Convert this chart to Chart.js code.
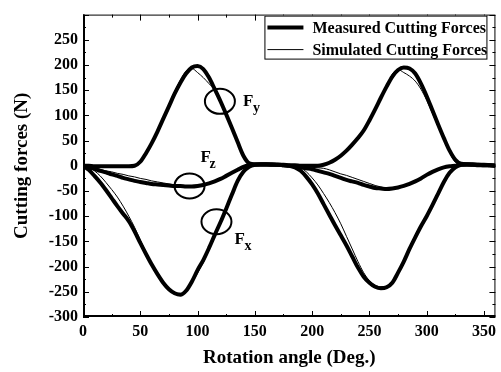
<!DOCTYPE html>
<html>
<head>
<meta charset="utf-8">
<script src="https://cdn.jsdelivr.net/npm/chart.js@4.4.1/dist/chart.umd.min.js"></script>
<style>
  html, body { margin: 0; padding: 0; background: #fff; }
</style>
</head>
<body>
<canvas id="chart" width="501" height="372"></canvas>
<script>
// rotation angle (deg.)
const angles = [0, 5, 10, 15, 20, 25, 30, 35, 40, 45, 50, 55, 60, 65, 70, 75, 80, 85, 90, 95,
  100, 105, 110, 115, 120, 125, 130, 135, 140, 145, 150, 155, 160, 165, 170, 175, 180, 185, 190, 195,
  200, 205, 210, 215, 220, 225, 230, 235, 240, 245, 250, 255, 260, 265, 270, 275, 280, 285, 290, 295,
  300, 305, 310, 315, 320, 325, 330, 335, 340, 345, 350, 355, 360];

// measured cutting forces (N)
const fxMeasured = [0, -8, -20, -33, -48, -64, -80, -95, -110, -130, -153, -175, -196, -215, -232, -245, -253, -256, -248, -230,
  -207, -187, -163, -137, -112, -85, -57, -30, -12, -2, 2, 3, 3, 2, 2, 1, 0, -3, -10, -22,
  -37, -55, -76, -97, -118, -138, -158, -180, -202, -220, -232, -240, -243, -241, -232, -212, -190, -165, -142, -120,
  -100, -78, -55, -32, -14, -3, 2, 3, 2, 2, 1, 1, 0];
const fyMeasured = [0, 0, -1, -1, -1, -1, -1, -1, -1, 0, 8, 25, 45, 68, 93, 118, 143, 165, 183, 195,
  198, 192, 175, 152, 128, 102, 75, 47, 20, 5, 3, 3, 3, 3, 2, 2, 1, 1, 0, 0,
  0, 0, 2, 6, 12, 20, 30, 42, 55, 70, 90, 112, 135, 157, 177, 190, 195, 193, 183, 163,
  138, 110, 82, 55, 30, 12, 4, 3, 3, 2, 2, 1, 0];
const fzMeasured = [0, -3, -6, -10, -13, -17, -20, -24, -27, -30, -32, -34, -36, -37, -38, -39, -40, -40, -41, -41,
  -40, -38, -35, -31, -26, -20, -14, -8, -2, 1, 2, 2, 2, 2, 2, 1, 0, -1, -3, -5,
  -7, -10, -13, -16, -20, -24, -28, -31, -34, -38, -41, -44, -45, -46, -45, -43, -40, -36, -31, -25,
  -18, -12, -7, -3, -1, 0, 2, 2, 2, 1, 1, 1, 0];

// simulated cutting forces (N)
const fxSimulated = [0, -3, -10, -20, -33, -47, -62, -80, -100, -122, -147, -172, -195, -215, -232, -245, -252, -253, -247, -233,
  -213, -192, -167, -140, -113, -85, -57, -30, -11, -1, 1, 2, 2, 1, 1, 0, 0, -1, -4, -12,
  -24, -38, -55, -73, -93, -115, -140, -165, -190, -212, -228, -237, -240, -239, -231, -213, -192, -168, -145, -123,
  -102, -80, -57, -34, -15, -4, 0, 1, 1, 1, 0, 0, 0];
const fySimulated = [0, 0, 0, 0, 0, 0, 0, 0, 0, 0, 6, 22, 43, 68, 95, 122, 148, 170, 188, 193,
  185, 175, 163, 150, 127, 102, 75, 47, 20, 4, 1, 1, 1, 1, 1, 0, 0, 0, 0, 0,
  0, 0, 1, 5, 11, 19, 29, 41, 54, 69, 90, 112, 135, 158, 182, 191, 185, 178, 168, 152,
  130, 104, 78, 52, 26, 7, 1, 4, 1, 0, 0, 0, 0];
const fzSimulated = [0, -1, -4, -7, -10, -12, -15, -17, -20, -22, -25, -27, -30, -32, -34, -36, -38, -39, -40, -40,
  -39, -37, -34, -30, -25, -19, -13, -7, -2, 0, 1, 1, 1, 1, 1, 0, 0, -1, -1, -2,
  -3, -4, -5, -8, -12, -16, -19, -23, -27, -31, -35, -39, -42, -44, -44, -42, -39, -35, -30, -24,
  -17, -11, -6, -3, -1, 0, 1, 1, 1, 1, 0, 0, 0];

const xTicks = [0, 50, 100, 150, 200, 250, 300, 350];
const yTicks = [-300, -250, -200, -150, -100, -50, 0, 50, 100, 150, 200, 250];

const legendLabels = ['Measured Cutting Forces', 'Simulated Cutting Forces'];
const xTitle = 'Rotation angle (Deg.)';
const yTitle = 'Cutting forces (N)';

// component labels: circle centre in data units, label offset in px
const marks = [
  { name: 'y', x: 119.5, y: 128, dx: 23, dy: 5, sdx: 10, sdy: 6 },
  { name: 'z', x: 93, y: -40, dx: 11, dy: -24, sdx: 9, sdy: 6 },
  { name: 'x', x: 116.5, y: -111, dx: 18, dy: 22, sdx: 10, sdy: 6 }
];

const SERIF = "'Liberation Serif', 'Times New Roman', serif";

function pts(vals) {
  return angles.map((a, i) => ({ x: a, y: vals[i] }));
}

function measured(vals) {
  return { data: pts(vals), borderColor: '#000', borderWidth: 4, pointRadius: 0,
    cubicInterpolationMode: 'monotone', fill: false };
}
function simulated(vals) {
  return { data: pts(vals), borderColor: '#000', borderWidth: 1, pointRadius: 0,
    cubicInterpolationMode: 'monotone', fill: false };
}

function line(ctx, x1, y1, x2, y2) {
  ctx.beginPath();
  ctx.moveTo(x1, y1);
  ctx.lineTo(x2, y2);
  ctx.stroke();
}

const decor = {
  id: 'decor',
  afterDraw(chart) {
    const { ctx, chartArea: a, scales: { x, y } } = chart;
    ctx.save();
    ctx.strokeStyle = '#000';
    ctx.fillStyle = '#000';

    // inward ticks on all four sides
    ctx.lineWidth = 1;
    for (let v = 0; v <= 360; v += 25) {
      const px = Math.round(x.getPixelForValue(v)) + 0.5;
      const len = v % 50 === 0 ? 6 : 3;
      line(ctx, px, a.bottom, px, a.bottom - len);
      line(ctx, px, a.top, px, a.top + len);
    }
    for (let v = -300; v <= 300; v += 25) {
      const py = Math.round(y.getPixelForValue(v)) + 0.5;
      const len = v % 50 === 0 ? 6 : 3;
      line(ctx, a.left, py, a.left + len, py);
      line(ctx, a.right, py, a.right - len, py);
    }

    // frame
    ctx.strokeRect(a.left + 0.5, a.top + 0.5, a.right - a.left - 1, a.bottom - a.top - 1);
    ctx.lineWidth = 2;
    line(ctx, a.left + 1, a.top, a.left + 1, a.bottom);
    line(ctx, a.left, a.bottom - 1, a.right, a.bottom - 1);

    // circles + F labels
    marks.forEach(m => {
      const cx = x.getPixelForValue(m.x);
      const cy = y.getPixelForValue(m.y);
      ctx.lineWidth = 2;
      ctx.beginPath();
      ctx.ellipse(cx, cy, 15, 12.5, 0, 0, Math.PI * 2);
      ctx.stroke();
      ctx.textAlign = 'left';
      ctx.textBaseline = 'alphabetic';
      ctx.font = 'bold 17px ' + SERIF;
      ctx.fillText('F', cx + m.dx, cy + m.dy);
      ctx.font = 'bold 14px ' + SERIF;
      ctx.fillText(m.name, cx + m.dx + m.sdx, cy + m.dy + m.sdy);
    });

    // legend box
    const lx = a.right - 231, ly = a.top + 1, lw = 222, lh = 43;
    ctx.fillStyle = '#fff';
    ctx.fillRect(lx, ly, lw, lh);
    ctx.lineWidth = 1;
    ctx.strokeRect(lx + 0.5, ly + 0.5, lw, lh);
    ctx.fillStyle = '#000';
    ctx.font = 'bold 16px ' + SERIF;
    ctx.textBaseline = 'middle';
    [4, 1].forEach((w, i) => {
      const ry = ly + 12 + i * 22;
      ctx.lineWidth = w;
      line(ctx, lx + 3, ry, lx + 39, ry);
      ctx.fillText(legendLabels[i], lx + 48, ry + 1);
    });
    ctx.restore();
  }
};

new Chart(document.getElementById('chart'), {
  type: 'line',
  data: {
    datasets: [
      measured(fxMeasured), measured(fyMeasured), measured(fzMeasured),
      simulated(fxSimulated), simulated(fySimulated), simulated(fzSimulated)
    ]
  },
  options: {
    responsive: false,
    animation: false,
    devicePixelRatio: 1,
    layout: { padding: { top: 7, right: 1, left: 0, bottom: 0 } },
    plugins: { legend: { display: false }, tooltip: { enabled: false } },
    scales: {
      x: {
        type: 'linear', min: 0, max: 360,
        afterBuildTicks: s => { s.ticks = xTicks.map(v => ({ value: v })); },
        afterFit: s => { s.height = 55; },
        grid: { display: false, drawTicks: false },
        border: { display: false },
        ticks: {
          autoSkip: false, maxRotation: 0, padding: 5, color: '#000',
          font: { family: SERIF, size: 16, weight: 'bold' }
        },
        title: {
          display: true, text: xTitle, color: '#000', padding: { top: 0, bottom: 3 },
          font: { family: SERIF, size: 19, weight: 'bold' }
        }
      },
      y: {
        type: 'linear', min: -300, max: 300,
        afterBuildTicks: s => { s.ticks = yTicks.map(v => ({ value: v })); },
        afterFit: s => { s.width = 83; },
        grid: { display: false, drawTicks: false },
        border: { display: false },
        ticks: {
          autoSkip: false, padding: 5, color: '#000',
          font: { family: SERIF, size: 16, weight: 'bold' }
        },
        title: {
          display: true, text: yTitle, color: '#000', padding: { top: 11, bottom: 0 },
          font: { family: SERIF, size: 19, weight: 'bold' }
        }
      }
    }
  },
  plugins: [decor]
});
</script>
</body>
</html>
